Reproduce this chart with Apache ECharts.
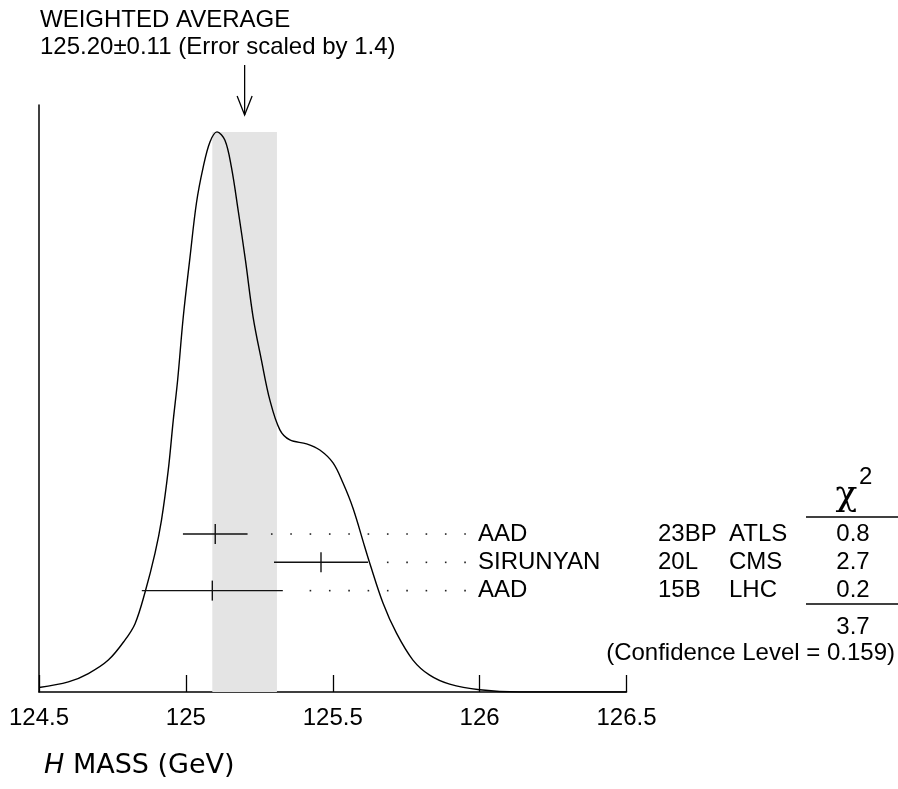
<!DOCTYPE html>
<html><head><meta charset="utf-8">
<script src="https://cdn.jsdelivr.net/npm/echarts@6/dist/echarts.min.js"></script>
<style>html,body{margin:0;padding:0;background:#fff}#c{width:898px;height:789px}</style>
</head><body><div id="c"></div>
<script>
// ---- Data ----
// Ideogram curve (x = H mass in GeV, y = relative height, peak = 1)
const curveX = [124.5, 124.600, 124.668, 124.736, 124.793, 124.827, 124.861, 124.895, 124.917, 124.940,
  124.957, 124.972, 124.991, 125.014, 125.036, 125.059, 125.082, 125.106, 125.133, 125.155,
  125.178, 125.203, 125.229, 125.257, 125.286, 125.320, 125.354, 125.411, 125.456, 125.501,
  125.535, 125.569, 125.609, 125.626, 125.671, 125.717, 125.773, 125.830, 125.898, 126.0,
  126.136, 126.5];
const curveY = [0.008, 0.018, 0.033, 0.057, 0.093, 0.122, 0.178, 0.248, 0.307, 0.396,
  0.485, 0.557, 0.669, 0.776, 0.873, 0.937, 0.982, 1.000, 0.985, 0.937,
  0.860, 0.770, 0.669, 0.593, 0.521, 0.468, 0.450, 0.443, 0.432, 0.409,
  0.373, 0.328, 0.259, 0.230, 0.159, 0.105, 0.057, 0.030, 0.014, 0.004,
  0.000, 0.000];
// Measurements
const authors = ['AAD', 'SIRUNYAN', 'AAD'];
const docIds = ['23BP', '20L', '15B'];
const experiments = ['ATLS', 'CMS', 'LHC'];
const values = [125.10, 125.46, 125.09];
const errors = [0.11, 0.16, 0.24];
const chi2 = ['0.8', '2.7', '0.2'];
const chi2Total = '3.7';
const confLevel = '0.159';
// Weighted average
const avgValue = 125.20;
const avgError = 0.11;
const scaleFactor = '1.4';
// Axis
const xMin = 124.5, xMax = 126.5, xStep = 0.5;

// ---- Layout ----
const FONT = '"Liberation Sans", Arial, Helvetica, sans-serif';
const ROW_Y0 = 534, ROW_STEP = 28.3;
const DOT_END = 465, DOT_STEP = 19.33;
const COL_AUTHOR = 478, COL_DOC = 658, COL_EXP = 729, COL_CHI = 853;

const chart = echarts.init(document.getElementById('c'), null, {renderer: 'canvas'});
const peak = Math.max(...curveY);

function txt(text, x, y, align, size, fam) {
  return {type: 'text', silent: true, style: {text: text, x: x, y: y, align: align || 'left', verticalAlign: 'middle',
    font: (size || 24) + 'px ' + (fam || FONT), fill: '#000'}};
}

const option = {
  animation: false,
  backgroundColor: '#fff',
  grid: {left: 39, right: 271.5, top: 105, bottom: 97},
  xAxis: {
    type: 'value', min: xMin, max: xMax, interval: xStep,
    axisLine: {show: true, onZero: false, lineStyle: {color: '#000', width: 1.5}},
    axisTick: {show: true, inside: true, length: 17, lineStyle: {color: '#000', width: 1.3}},
    axisLabel: {color: '#000', fontSize: 24, fontFamily: FONT, margin: 14},
    splitLine: {show: false}
  },
  yAxis: {
    type: 'value', min: 0, max: 1.048,
    axisLine: {show: true, lineStyle: {color: '#000', width: 1.5}},
    axisTick: {show: false}, axisLabel: {show: false}, splitLine: {show: false}
  },
  series: [
    {
      type: 'line', z: 2,
      data: curveX.map((x, i) => [x, curveY[i]]),
      smooth: 0.35, symbol: 'none',
      lineStyle: {color: '#000', width: 1.4},
      markArea: {
        silent: true,
        itemStyle: {color: '#e4e4e4'},
        data: [[{xAxis: avgValue - avgError, yAxis: 0}, {xAxis: avgValue + avgError, yAxis: peak}]]
      }
    },
    {
      type: 'custom', z: 5, clip: false,
      data: values.map((v, i) => [v, errors[i], i]),
      renderItem: function (params, api) {
        const v = api.value(0), e = api.value(1), i = api.value(2);
        const cx = api.coord([v, 0])[0];
        const lx = api.coord([v - e, 0])[0];
        const rx = api.coord([v + e, 0])[0];
        const y = ROW_Y0 + i * ROW_STEP;
        const ls = {stroke: '#111', lineWidth: 1.4};
        const children = [
          {type: 'line', shape: {x1: lx, y1: y, x2: rx, y2: y}, style: ls},
          {type: 'line', shape: {x1: cx, y1: y - 10, x2: cx, y2: y + 10}, style: ls}
        ];
        for (let k = 0; ; k++) {
          const dx = DOT_END - k * DOT_STEP;
          if (dx <= rx + 12) break;
          children.push({type: 'rect', shape: {x: dx - 0.75, y: y - 0.75, width: 1.6, height: 1.6}, style: {fill: '#222'}});
        }
        children.push(txt(authors[i], COL_AUTHOR, y));
        children.push(txt(docIds[i], COL_DOC, y));
        children.push(txt(experiments[i], COL_EXP, y));
        children.push(txt(chi2[i], COL_CHI, y, 'center'));
        return {type: 'group', children: children};
      }
    },
    {
      type: 'custom', z: 5, clip: false,
      data: [[avgValue]],
      renderItem: function (params, api) {
        const x = api.coord([api.value(0), 0])[0];
        const ls = {stroke: '#000', lineWidth: 1.3, fill: null};
        return {type: 'group', children: [
          {type: 'line', shape: {x1: x, y1: 65, x2: x, y2: 115}, style: ls},
          {type: 'polyline', shape: {points: [[x - 7.5, 96], [x, 115], [x + 7.5, 96]]}, style: ls}
        ]};
      }
    }
  ],
  graphic: [
    {type: 'text', silent: true, style: {text: 'WEIGHTED AVERAGE', x: 40, y: 20.5, verticalAlign: 'middle', font: '24px ' + FONT, fill: '#000'}},
    {type: 'text', silent: true, style: {text: avgValue.toFixed(2) + '±' + avgError.toFixed(2) + ' (Error scaled by ' + scaleFactor + ')',
      x: 40, y: 47, verticalAlign: 'middle', font: '24px ' + FONT, fill: '#000'}},
    // chi-square header
    {type: 'text', silent: true, style: {text: 'χ', x: 846.5, y: 496, align: 'center', verticalAlign: 'middle', font: '36px "DejaVu Serif", "Liberation Serif", serif', fill: '#000'}},
    {type: 'text', silent: true, style: {text: '2', x: 859, y: 477, align: 'left', verticalAlign: 'middle', font: '24px ' + FONT, fill: '#000'}},
    {type: 'line', silent: true, shape: {x1: 806, y1: 517, x2: 898, y2: 517}, style: {stroke: '#000', lineWidth: 1.3}},
    {type: 'line', silent: true, shape: {x1: 806, y1: 604, x2: 898, y2: 604}, style: {stroke: '#000', lineWidth: 1.3}},
    {type: 'text', silent: true, style: {text: chi2Total, x: COL_CHI, y: 627, align: 'center', verticalAlign: 'middle', font: '24px ' + FONT, fill: '#000'}},
    {type: 'text', silent: true, style: {text: '(Confidence Level = ' + confLevel + ')', x: 895, y: 653, align: 'right', verticalAlign: 'middle', font: '24px ' + FONT, fill: '#000'}},
    // axis title
    {type: 'text', silent: true, style: {
      text: '{i|H} MASS (GeV)', x: 44, y: 766, verticalAlign: 'middle',
      font: '27px "DejaVu Sans", sans-serif', fill: '#000',
      rich: {i: {fontStyle: 'italic', fontFamily: '"DejaVu Sans", sans-serif', fontSize: 27, fill: '#000'}}
    }}
  ]
};
chart.setOption(option);
</script>
</body></html>
